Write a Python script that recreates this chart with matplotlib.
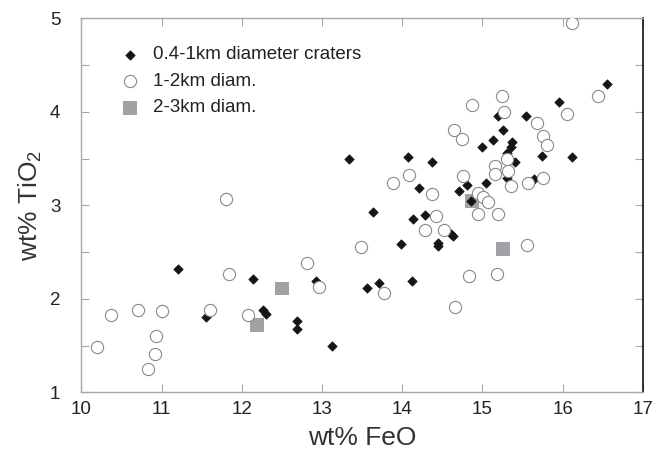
import matplotlib
matplotlib.use("Agg")
import matplotlib.pyplot as plt
from matplotlib.ticker import MultipleLocator, FixedLocator, NullFormatter

plt.rcParams['font.family'] = ['Liberation Sans', 'DejaVu Sans']
plt.rcParams['mathtext.fontset'] = 'custom'
plt.rcParams['mathtext.rm'] = 'Liberation Sans'
plt.rcParams['mathtext.it'] = 'Liberation Sans'

# 0.4-1 km diameter craters (FeO, TiO2)
small_feo = [11.20, 11.56, 12.14, 12.27, 12.30, 12.69, 12.69, 12.92, 13.13, 13.34,
             13.56, 13.63, 13.71, 13.98, 14.07, 14.12, 14.14, 14.21, 14.28, 14.37,
             14.44, 14.44, 14.61, 14.63, 14.71, 14.81, 14.86, 15.00, 15.04, 15.13,
             15.19, 15.25, 15.35, 15.37, 15.30, 15.30, 15.41, 15.54, 15.64, 15.74,
             15.95, 16.11, 16.55]
small_tio2 = [2.32, 1.81, 2.21, 1.88, 1.84, 1.76, 1.68, 2.19, 1.49, 3.49,
              2.12, 2.93, 2.17, 2.59, 3.52, 2.19, 2.85, 3.19, 2.90, 3.46,
              2.60, 2.56, 2.69, 2.67, 3.15, 3.22, 3.05, 3.62, 3.24, 3.70,
              3.95, 3.81, 3.62, 3.68, 3.56, 3.29, 3.46, 3.96, 3.28, 3.53,
              4.11, 3.52, 4.30]

# 1-2 km diameter craters
mid_feo = [10.19, 10.37, 10.71, 11.00, 10.93, 10.92, 10.83, 11.60, 11.80, 11.84,
           12.08, 12.81, 12.96, 13.48, 13.77, 13.89, 14.09, 14.28, 14.37, 14.42,
           14.52, 14.64, 14.74, 14.66, 14.76, 14.83, 14.87, 14.95, 15.01, 14.95,
           15.07, 15.15, 15.15, 15.19, 15.18, 15.24, 15.27, 15.31, 15.32, 15.36,
           15.55, 15.57, 15.68, 15.76, 15.80, 15.75, 16.05, 16.44, 16.12]
mid_tio2 = [1.48, 1.83, 1.88, 1.87, 1.60, 1.41, 1.25, 1.88, 3.07, 2.27,
            1.83, 2.38, 2.13, 2.55, 2.06, 3.24, 3.32, 2.74, 3.12, 2.89,
            2.74, 3.81, 3.71, 1.91, 3.31, 2.24, 4.07, 3.13, 3.09, 2.91,
            3.04, 3.42, 3.33, 2.91, 2.27, 4.17, 4.00, 3.50, 3.37, 3.21,
            2.58, 3.24, 3.88, 3.74, 3.64, 3.29, 3.98, 4.17, 4.95]

# 2-3 km diameter craters
large_feo = [12.19, 12.50, 14.87, 15.25]
large_tio2 = [1.72, 2.11, 3.05, 2.53]

labels = ['0.4-1km diameter craters', '1-2km diam.', '2-3km diam.']
x_ticks = [10, 11, 12, 13, 14, 15, 16, 17]
y_ticks = [1, 2, 3, 4, 5]

fig = plt.figure(figsize=(6.6, 4.55), dpi=100)
ax = fig.add_axes([0.1232, 0.1378, 0.8510, 0.8220])

h3 = ax.scatter(large_feo, large_tio2, marker='s', s=10.0**2, c='#a2a2a6',
                edgecolors='none', zorder=2, label=labels[2])
h1 = ax.scatter(small_feo, small_tio2, marker='D', s=4.8**2, c='#151515',
                edgecolors='#151515', linewidths=0.5, zorder=3, label=labels[0])
h2 = ax.scatter(mid_feo, mid_tio2, marker='o', s=8.8**2, facecolors='white',
                edgecolors='#8a8a8a', linewidths=0.8, zorder=4, label=labels[1])

ax.set_xlim(10, 17)
ax.set_ylim(1, 5)
ax.xaxis.set_major_locator(FixedLocator(x_ticks))
ax.yaxis.set_major_locator(FixedLocator(y_ticks))
ax.yaxis.set_minor_locator(MultipleLocator(0.5))
ax.yaxis.set_minor_formatter(NullFormatter())

gray = '#a8a8a8'
for side in ['left', 'top', 'bottom']:
    ax.spines[side].set_color(gray)
    ax.spines[side].set_linewidth(1.0)
ax.spines['right'].set_color('#111111')
ax.spines['right'].set_linewidth(1.2)

ax.tick_params(which='both', direction='in', length=6, width=0.8, color=gray,
               top=True, right=True, labelsize=13.5, labelcolor='#222222')
ax.tick_params(axis='x', pad=6)
ax.tick_params(axis='y', pad=15)

ax.set_xlabel('wt% FeO', fontsize=19, color='#333333', labelpad=6)
ax.set_ylabel('wt% TiO$_\\mathregular{2}$', fontsize=19, color='#333333', labelpad=4)

ax.legend(handles=[h1, h2, h3], labels=labels, loc='upper left',
          bbox_to_anchor=(0.04, 0.945), frameon=False, fontsize=13.5,
          handletextpad=0.25, labelspacing=0.5, borderaxespad=0,
          scatterpoints=1, markerscale=1.0, labelcolor='#222222')

fig.savefig('out.png', dpi=100)
